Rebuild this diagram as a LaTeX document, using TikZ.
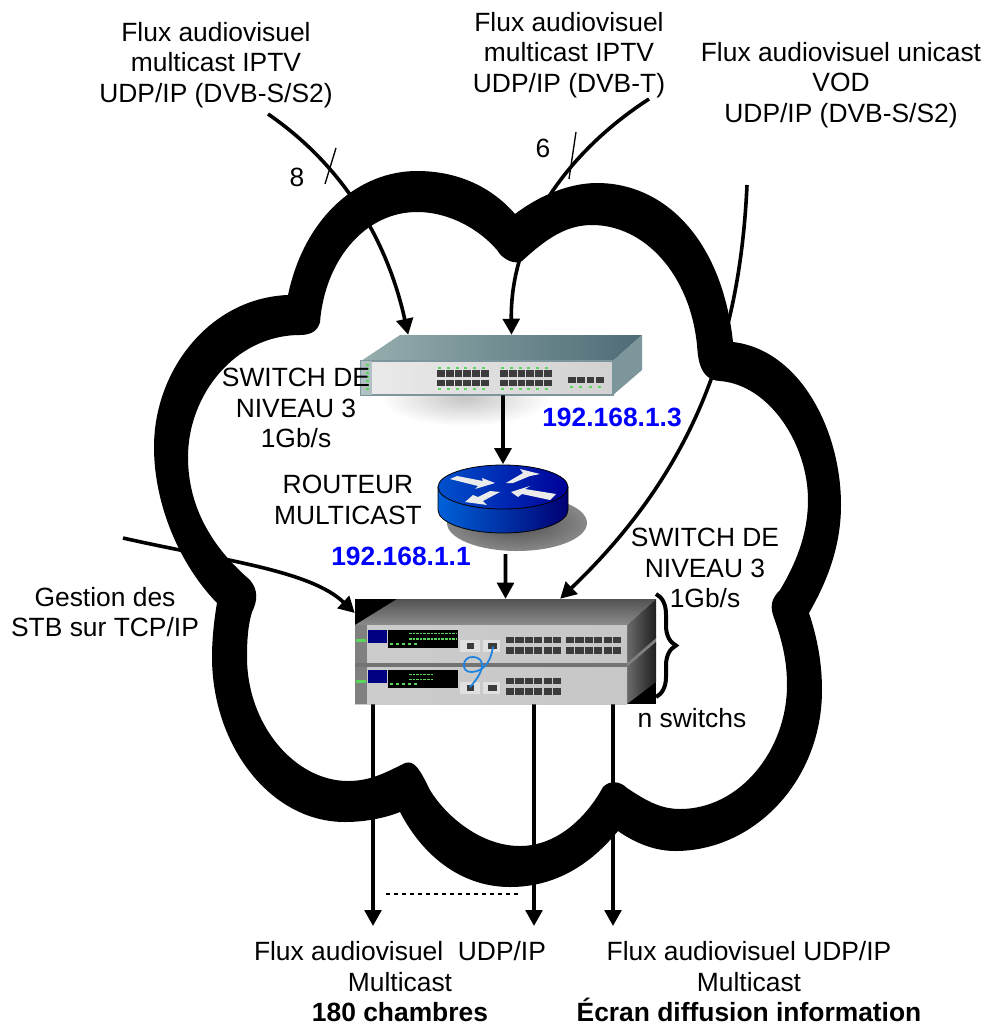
\documentclass[tikz,border=0pt]{standalone}
\usepackage{xcolor}
\usepackage{fontspec}
\setmainfont{Liberation Sans}
\usetikzlibrary{arrows, arrows.meta, decorations.pathreplacing}
\definecolor{ipblue}{RGB}{0,0,255}
\definecolor{tealA}{RGB}{150,174,174}
\definecolor{tealB}{RGB}{78,108,118}
\definecolor{tealC}{RGB}{125,150,155}
\definecolor{portgrey}{RGB}{60,60,60}
\definecolor{ledgreen}{RGB}{90,215,90}
\definecolor{cablecol}{RGB}{30,130,225}
\pgfdeclareradialshading{routershadow}{\pgfpoint{0bp}{0bp}}{color(0bp)=(black!70); color(30bp)=(black!42); color(40bp)=(black!22); color(47bp)=(black!10); color(50bp)=(white)}
\tikzset{
    flow/.style={line width=2.7pt, -{Triangle[length=12pt,width=12.5pt]}},
    tick/.style={line width=1pt},
    txt/.style={font=\fontsize{19.8}{22.9}\selectfont, align=center, inner sep=0pt},
    ip/.style={txt, font=\fontsize{19.8}{22.9}\selectfont\bfseries, text=ipblue},
    box/.style={inner sep=0pt, draw=none}
}
\begin{document}
\begin{tikzpicture}[x=0.75pt, y=-0.75pt]
\useasboundingbox (0,0) rectangle (986,1026);

\fill[even odd rule]
    (288,295) .. controls (305,215) and (360,171) .. (417,171) .. controls (455,171) and (490,185) .. (515,214)
    .. controls (540,195) and (570,183) .. (597,183) .. controls (665,183) and (722,240) .. (733,342)
    .. controls (800,350) and (841,430) .. (841,505) .. controls (841,545) and (828,580) .. (809,613)
    .. controls (818,640) and (822,665) .. (822,690) .. controls (822,780) and (755,851) .. (675,851) .. controls (655,851) and (635,843) .. (618,831)
    .. controls (590,865) and (555,887) .. (510,887) .. controls (465,887) and (425,860) .. (400,812)
    .. controls (385,818) and (365,822) .. (345,822) .. controls (270,822) and (212,745) .. (212,657) .. controls (212,640) and (214,620) .. (217,603)
    .. controls (180,565) and (154,505) .. (154,447) .. controls (154,370) and (210,298) .. (288,295) -- cycle
    (320,322) .. controls (325,260) and (365,212) .. (417,212) .. controls (450,212) and (480,230) .. (497,250)
    .. controls (503,260) and (515,265) .. (522,261) .. controls (545,240) and (565,225) .. (592,225)
    .. controls (645,225) and (690,275) .. (697,345) .. controls (698,355) and (698,380) .. (720,381)
    .. controls (770,385) and (808,445) .. (808,500) .. controls (808,535) and (795,565) .. (780,590)
    .. controls (772,598) and (770,605) .. (773,615) .. controls (782,640) and (787,660) .. (787,685)
    .. controls (787,750) and (740,809) .. (680,809) .. controls (660,809) and (645,800) .. (627,788)
    .. controls (620,781) and (610,780) .. (603,787) .. controls (585,820) and (555,846) .. (520,846)
    .. controls (480,846) and (445,815) .. (430,790) .. controls (420,770) and (415,760) .. (405,763)
    .. controls (385,773) and (370,781) .. (348,781) .. controls (295,781) and (247,725) .. (247,657)
    .. controls (247,640) and (248,625) .. (252,612) .. controls (258,600) and (258,590) .. (250,580)
    .. controls (215,550) and (188,510) .. (188,457) .. controls (188,395) and (235,335) .. (300,335)
    .. controls (312,335) and (318,330) .. (320,322) -- cycle;

\node[box, minimum width=211pt, minimum height=45pt] (swtop) at (501.5,365) {};
\node[box, minimum width=97.5pt, minimum height=51pt] (router) at (503,498.5) {};
\node[box, minimum width=225.75pt, minimum height=78.75pt] (stack) at (505.5,651.5) {};

\shade[inner color=gray!45, outer color=white] (465,398) ellipse [x radius=85, y radius=28];
\shade[left color=tealA, right color=tealB] (361,361) -- (400,335) -- (642,335) -- (613,361) -- cycle;
\fill[tealC] (613,361) -- (642,335) -- (642,370) -- (613,395) -- cycle;
\shade[left color=white!92!black, right color=white!82!black, draw=tealC, line width=1pt] (361,361) rectangle (613,395);
\fill[tealC!60!white] (361,361) rectangle (372,395);
\foreach \y in {364,368,372,376,380,384,388} \fill[ledgreen] (366,\y) rectangle +(3,2);
\foreach \gx in {437,500} {
    \foreach \i in {0,...,5} {
        \fill[portgrey] (\gx+\i*8.8,370) rectangle +(7.8,6.5);
        \fill[portgrey] (\gx+\i*8.8,379.5) rectangle +(7.8,6.5);
        \fill[ledgreen] (\gx+1+\i*8.8,367) rectangle +(3,1.6);
        \fill[ledgreen] (\gx+1+\i*8.8,388) rectangle +(3,1.6);
    }
}
\foreach \i in {0,...,3} {
    \fill[portgrey] (568+\i*9.4,377) rectangle +(7.6,6);
    \fill[ledgreen] (570+\i*9.4,386) rectangle +(3,1.6);
}

\shade[shading=routershadow] (517,523) ellipse [x radius=70, y radius=28];
\shade[left color=blue!55!cyan!85!black, right color=blue!45!black, draw=black, line width=.6pt]
    (438,487) -- (438,510) arc [start angle=180, end angle=360, x radius=65, y radius=-23] -- (568,487) -- cycle;
\shade[left color=blue!60!cyan!80!black, right color=blue!60!black, draw=black, line width=.6pt]
    (503,487) ellipse [x radius=65, y radius=22];
\fill[white!92!black] (450,479) -- (457,476) -- (483,481) -- (482,478) -- (495,483) -- (475,489) -- (478,486) -- cycle;
\fill[white!92!black] (506,483) -- (513,483) -- (530,476) -- (540,474) -- (520,469) -- (523,473) -- cycle;
\fill[white!92!black] (511,492) -- (530,486) -- (525,489) -- (556,494) -- (550,500) -- (522,494) -- (518,497) -- cycle;
\fill[white!92!black] (500,492) -- (490,491) -- (478,497) -- (473,495) -- (465,502) -- (487,505) -- (483,501) -- cycle;

\fill[black] (355,599) rectangle (397,625);
\fill[black] (627,682) rectangle (656,704);
\shade[top color=black!68, bottom color=black!45] (355,625) -- (397,599) -- (656,599) -- (627,625) -- cycle;
\fill[gray] (627,660) -- (656,636) -- (656,646) -- (627,670) -- cycle;
\shade[left color=black!58, right color=black!88] (627,625) -- (656,599) -- (656,638) -- (627,663) -- cycle;
\shade[left color=black!58, right color=black!88] (627,667) -- (656,642) -- (656,682) -- (627,704) -- cycle;
\shade[left color=white!80!black, right color=white!78!black] (355,625) rectangle (627,663);
\shade[left color=white!80!black, right color=white!78!black] (355,667) rectangle (627,704);
\fill[gray!90!black] (355,663) rectangle (627,667);
\fill[gray] (355,625) rectangle (367,663);
\fill[gray] (355,667) rectangle (367,704);
\foreach \y in {630,670} {
    \fill[blue!50!black] (368,\y) rectangle +(19,13);
    \fill[black] (388,\y) rectangle +(70,18);
    \foreach \i in {0,...,4} \fill[ledgreen] (390+\i*6,\y+13) rectangle +(3,1.6);
}
\draw[ledgreen, line width=1.2pt, dash pattern=on 2pt off .7pt] (409,633.5) -- (457,633.5);
\draw[ledgreen, line width=1.2pt, dash pattern=on 2pt off .7pt] (409,639) -- (457,639);
\draw[ledgreen, line width=1.2pt, dash pattern=on 2pt off .7pt] (409,674.5) -- (433,674.5);
\draw[ledgreen, line width=1.2pt, dash pattern=on 2pt off .7pt] (409,679.5) -- (433,679.5);
\fill[ledgreen] (356,639) rectangle (366,642);
\fill[ledgreen] (356,680) rectangle (366,683);
\foreach \y in {640,682} {
    \fill[white!88!black] (460,\y) rectangle +(20,12);
    \fill[white!88!black] (483,\y) rectangle +(17,12);
    \fill[portgrey] (467,\y+3) rectangle +(7,6);
    \fill[portgrey] (488,\y+3) rectangle +(9,6);
}
\foreach \gx in {506,566} {
    \foreach \i in {0,...,5} {
        \fill[portgrey] (\gx+\i*9.4,637) rectangle +(8.2,6);
        \fill[portgrey] (\gx+\i*9.4,647) rectangle +(8.2,7);
    }
}
\foreach \i in {0,...,5} {
    \fill[portgrey] (506+\i*9.4,678) rectangle +(8.2,6);
    \fill[portgrey] (506+\i*9.4,688) rectangle +(8.2,7);
}
\draw[cablecol, line width=1.3pt, line cap=round] (493,647) .. controls (490,665) and (482,671) .. (472,672)
    .. controls (460,673) and (462,656) .. (473,657) .. controls (487,658) and (484,672) .. (470,687);

\coordinate (in8) at (268,114);
\coordinate (in6) at (649,99);
\coordinate (invod) at (747,185);
\coordinate (ingest) at (123,538);
\coordinate (out1) at (373,926);
\coordinate (out2) at (534,926);
\coordinate (out3) at (613,926);

\draw[flow] (in8) .. controls (335,160) and (385,230) .. ([xshift=-70pt]swtop.north);
\draw[flow] (in6) .. controls (570,150) and (510,230) .. ([xshift=7.5pt]swtop.north);
\draw[flow] (invod) .. controls (740,340) and (695,470) .. ([xshift=41pt]stack.north);
\draw[flow] (ingest) .. controls (220,560) and (310,570) .. (stack.north west |- 0,613);
\draw[flow] ([xshift=1.1pt]swtop.south) -- (router.north);
\draw[flow] ([xshift=1.9pt, yshift=-16pt]router.south) -- (stack.north);
\draw[flow] ([xshift=-99.4pt]stack.south) -- (out1);
\draw[flow] ([xshift=21.4pt]stack.south) -- (out2);
\draw[flow] ([xshift=80.6pt]stack.south) -- (out3);

\coordinate (dash1) at (386,894);
\coordinate (dash2) at (521,894);
\draw[dashed, line width=.9pt] (dash1) -- (dash2);

\coordinate (tick1a) at (336,148);
\coordinate (tick1b) at (325,184);
\coordinate (tick2a) at (576,132);
\coordinate (tick2b) at (569,179);
\draw[tick] (tick1a) -- (tick1b);
\draw[tick] (tick2a) -- (tick2b);

\coordinate (bracea) at (656,594);
\coordinate (braceb) at (656,697);
\draw[line width=3pt, decorate, decoration={brace, amplitude=15pt}] (bracea) -- (braceb);

\node[txt] (labela) at (216,65) {Flux audiovisuel\\multicast IPTV\\UDP/IP (DVB-S/S2)};
\node[txt] (labelb) at (569,55) {Flux audiovisuel\\multicast IPTV\\UDP/IP (DVB-T)};
\node[txt] (labelc) at (841,85) {Flux audiovisuel unicast\\VOD\\UDP/IP (DVB-S/S2)};
\node[txt] (count8) at (297,177) {8};
\node[txt] (count6) at (543,148) {6};
\node[txt] (labeld) at (296,408) {SWITCH DE\\NIVEAU 3\\1Gb/s};
\node[ip] (ipa) at (612,417) {192.168.1.3};
\node[txt] (labele) at (348,500) {ROUTEUR\\MULTICAST};
\node[ip] (ipb) at (401,556) {192.168.1.1};
\node[txt] (labelf) at (705,568) {SWITCH DE\\NIVEAU 3\\1Gb/s};
\node[txt] (labelg) at (692,718) {n switchs};
\node[txt] (labelh) at (105,612) {Gestion des\\STB sur TCP/IP};
\node[txt] (labeli) at (400,982) {Flux audiovisuel~~UDP/IP\\Multicast\\\textbf{180 chambres}};
\node[txt] (labelj) at (749,982) {Flux audiovisuel UDP/IP\\Multicast\\\textbf{Écran diffusion information}};
\end{tikzpicture}
\end{document}
